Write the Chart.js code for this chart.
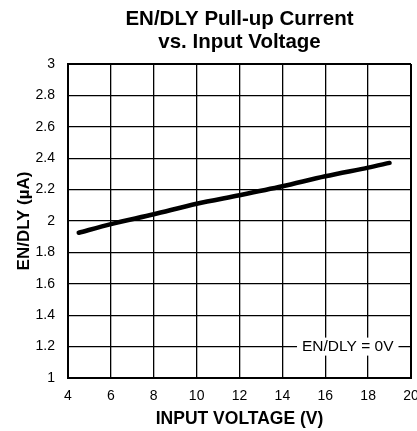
<!DOCTYPE html>
<html>
<head>
<meta charset="utf-8">
<script src="https://cdn.jsdelivr.net/npm/chart.js@4.4.0/dist/chart.umd.min.js"></script>
<style>
  html, body { margin: 0; padding: 0; background: #fff; }
  #wrap { width: 417px; height: 431px; }
</style>
</head>
<body>
<div id="wrap"><canvas id="myChart" width="417" height="431"></canvas></div>
<script>
// データ
const titleLines = ['EN/DLY Pull-up Current', 'vs. Input Voltage'];
const inputVoltage = [4.5, 6, 8, 10, 12, 14, 16, 18, 19];
const pullupCurrent = [1.925, 1.98, 2.043, 2.11, 2.164, 2.221, 2.285, 2.34, 2.37];
const xTitle = 'INPUT VOLTAGE (V)';
const yTitle = 'EN/DLY (µA)';
const noteText = 'EN/DLY = 0V';
const notePos = [17.05, 1.2];

const FONT = 'Liberation Sans, Arial, sans-serif';

// タイトル（プロット領域の中央に描く）
const plotTitle = {
    id: 'plotTitle',
    afterDraw(chart) {
        const { ctx, chartArea: { left, right } } = chart;
        const cx = (left + right) / 2;
        ctx.save();
        ctx.font = 'bold 20.5px ' + FONT;
        ctx.fillStyle = '#000';
        ctx.textAlign = 'center';
        ctx.textBaseline = 'middle';
        ctx.fillText(titleLines[0], cx, 19);
        ctx.fillText(titleLines[1], cx, 42);
        ctx.restore();
    }
};

// 条件ラベル（白い箱でグリッドを隠す）
const noteLabel = {
    id: 'noteLabel',
    afterDatasetsDraw(chart) {
        const { ctx, scales: { x, y } } = chart;
        const cx = x.getPixelForValue(notePos[0]);
        const cy = y.getPixelForValue(notePos[1]);
        ctx.save();
        ctx.font = '15.5px ' + FONT;
        const w = ctx.measureText(noteText).width + 10;
        ctx.fillStyle = '#fff';
        ctx.fillRect(cx - w / 2, cy - 9, w, 18);
        ctx.fillStyle = '#000';
        ctx.textAlign = 'center';
        ctx.textBaseline = 'middle';
        ctx.fillText(noteText, cx, cy);
        ctx.restore();
    }
};

const edgeWidth = (ctx, n) => (ctx.index === 0 || ctx.index === n) ? 2 : 1.3;

const config = {
    type: 'line',
    data: {
        datasets: [{
            data: inputVoltage.map((v, i) => ({ x: v, y: pullupCurrent[i] })),
            borderColor: '#000',
            borderWidth: 4.5,
            borderCapStyle: 'round',
            pointRadius: 0,
            tension: 0.3,
            fill: false
        }]
    },
    options: {
        responsive: false,
        animation: false,
        layout: { padding: { top: 64, right: 6, bottom: 0, left: 0 } },
        plugins: {
            legend: { display: false },
            tooltip: { enabled: false }
        },
        scales: {
            x: {
                type: 'linear',
                min: 4, max: 20,
                afterFit(scale) { scale.height = 53; scale.paddingRight = 0; scale.paddingLeft = 0; },
                ticks: { stepSize: 2, color: '#000', font: { family: FONT, size: 14 }, padding: 10, maxRotation: 0, autoSkip: false },
                grid: { color: '#000', drawTicks: false, lineWidth: c => edgeWidth(c, 8) },
                border: { color: '#000', width: 2 },
                title: { display: true, text: xTitle, color: '#000', font: { family: FONT, size: 17.5, weight: 'bold' }, padding: { top: 0, bottom: 1 } }
            },
            y: {
                min: 1, max: 3,
                afterFit(scale) { scale.width = 68; scale.paddingTop = 0; scale.paddingBottom = 0; },
                ticks: { stepSize: 0.2, color: '#000', font: { family: FONT, size: 14 }, padding: 13, callback: v => +v.toFixed(1) },
                grid: { color: '#000', drawTicks: false, lineWidth: c => edgeWidth(c, 10) },
                border: { color: '#000', width: 2 },
                title: { display: true, text: yTitle, color: '#000', font: { family: FONT, size: 17, weight: 'bold' }, padding: { top: 14, bottom: 0 } }
            }
        }
    },
    plugins: [plotTitle, noteLabel]
};

const myChart = new Chart(document.getElementById('myChart'), config);
</script>
</body>
</html>
